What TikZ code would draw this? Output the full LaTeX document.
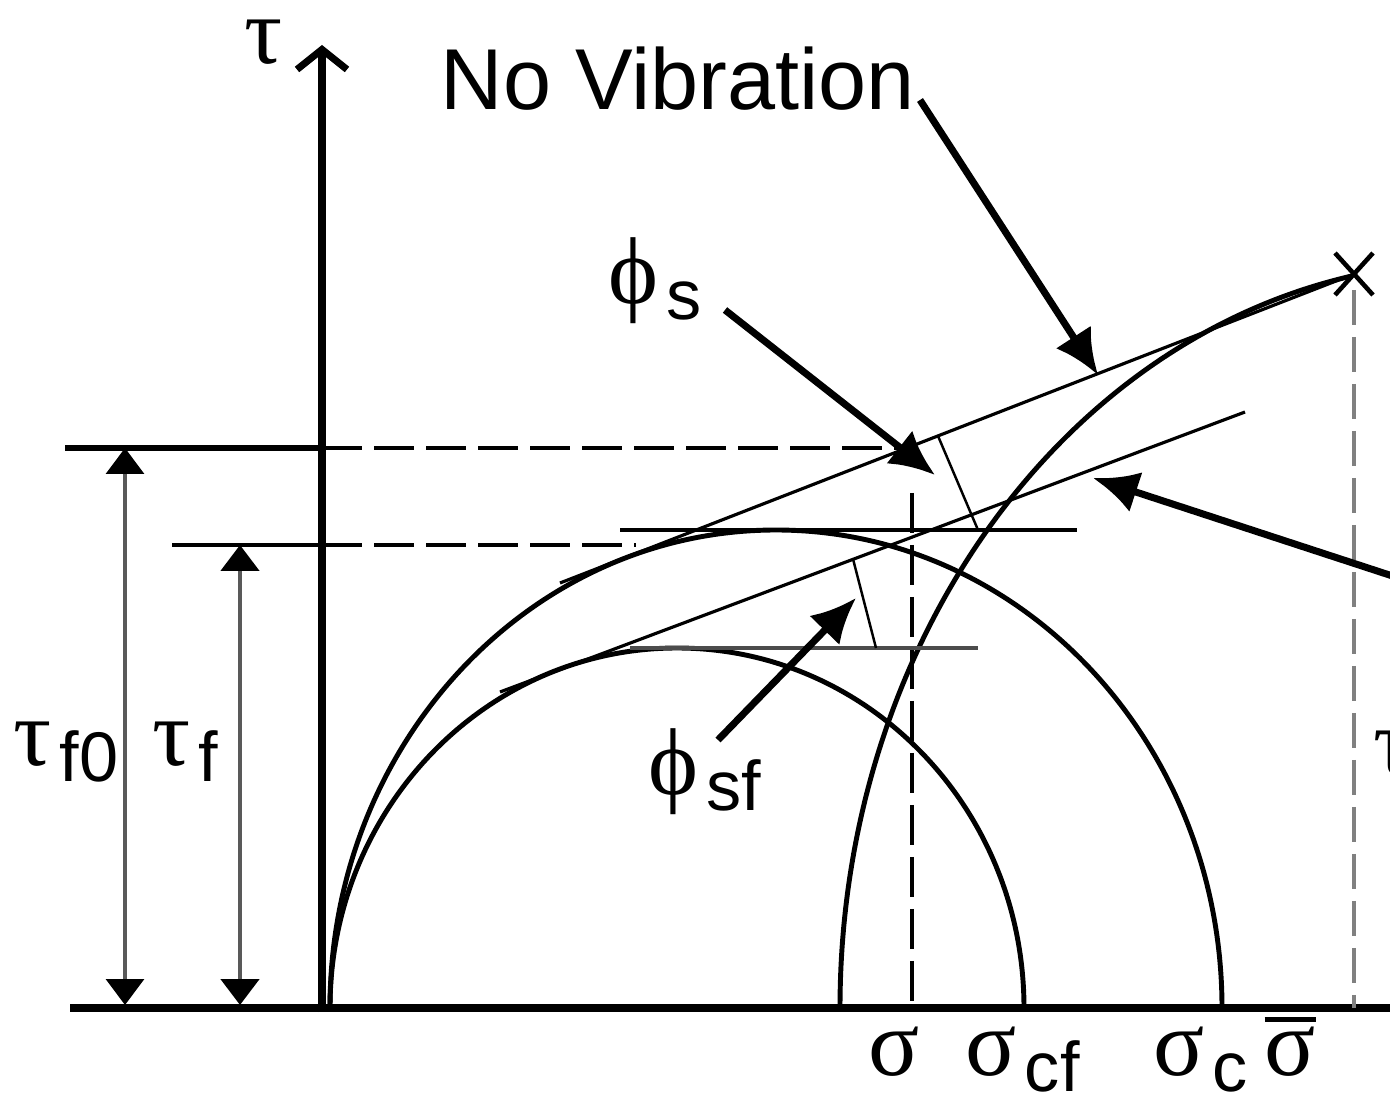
\documentclass[tikz,border=0pt]{standalone}
\usepackage{fontspec}
\setmainfont{Liberation Sans}
\newfontfamily\grk{Liberation Serif}
\usetikzlibrary{arrows.meta}

% greek symbol, barred sigma and lowered subscript
\newcommand{\gk}[1]{{\grk\fontsize{27}{30}\selectfont #1}}
\newcommand{\gkbar}[1]{\vbox{\hrule height 1.3pt\kern1.4pt\hbox{\gk{#1}}}}
\newcommand{\sbs}[1]{\kern0.8mm\raisebox{-1.6mm}{\fontsize{20}{24}\selectfont #1}}

\begin{document}
\begin{tikzpicture}[x=0.1mm,y=0.1mm,>=Latex,
  axis/.style={line width=2.2pt},
  circ/.style={line width=1.4pt},
  locus/.style={line width=0.9pt},
  guide/.style={line width=1.4pt,dash pattern=on 4mm off 1.2mm},
  pointer/.style={line width=2pt,-{Latex[length=4.5mm,width=4.2mm]}},
  dim/.style={line width=0.9pt,gray!70!black,
    {Triangle[length=2.6mm,width=3.8mm,color=black]}-{Triangle[length=2.6mm,width=3.8mm,color=black]}},
  lbl/.style={inner sep=0pt,anchor=base west}]
  \useasboundingbox (0,0) rectangle (1390,1104);

  % axes
  \coordinate (O) at (322,96);
  \draw[axis] (70,96) -- (1400,96);
  \draw[line width=2pt,-{Straight Barb[length=2mm,width=5mm]}] (322,92) -- (322,1059);

  % strength levels
  \draw[line width=1.7pt] (65,656) -- (O |- 0,656);
  \draw[guide] (O |- 0,656) -- (915,656);
  \draw[line width=0.9pt] (172,559) -- (O |- 0,559);
  \draw[guide] (O |- 0,559) -- (636,559);
  \draw[guide] (912,611) -- (912,96);
  \draw[dim] (125,99) -- (125,656);
  \draw[dim,line width=1.4pt] (240,99) -- (240,559);

  % Mohr circles
  \draw[circ] (330,96) arc[start angle=180,end angle=0,x radius=446,y radius=478];
  \draw[circ] (330,96) arc[start angle=180,end angle=0,x radius=347,y radius=360];
  \draw[circ] (840,96) arc[start angle=180,end angle=101.3,x radius=634,y radius=746];

  % yield loci and angles
  \coordinate (X) at (1354,830);
  \draw[locus] (620,574) -- (1077,574);
  \draw[locus,line width=1.2pt,gray!60!black] (630,456) -- (978,456);
  \draw[locus] (560,521) -- (X);
  \draw[locus] (500,412) -- (1245,692);
  \draw[line width=0.7pt] (938,668) -- (978,574);
  \draw[line width=0.7pt] (853,545) -- (876,456);
  \draw[line width=1.3pt] (X) +(-19,21) -- +(19,-21) (X) +(19,21) -- +(-19,-21);
  \draw[gray,line width=0.9pt,dash pattern=on 3.5mm off 1.2mm] (1354,814) -- (1354,96);

  % labels
  \node[lbl] (tau) at (244,1040) {\gk{τ}};
  \node[lbl,font=\fontsize{24.6}{28}\selectfont] (novib) at (440,994) {No Vibration};
  \node[lbl] (phis) at (608,800) {\gk{ϕ}\sbs{s}};
  \node[lbl] (phisf) at (648,310) {\gk{ϕ}\sbs{sf}};
  \node[lbl] (tauf0) at (13,339) {\gk{τ}\sbs{f0}};
  \node[lbl] (tauf) at (152,339) {\gk{τ}\sbs{f}};
  \node[lbl] (sig) at (868,29) {\gk{σ}};
  \node[lbl] (sigcf) at (965,29) {\gk{σ}\sbs{cf}};
  \node[lbl] (sigc) at (1153,29) {\gk{σ}\sbs{c}};
  \node[lbl] (sigbar) at (1264,29) {\gkbar{σ}};
  \node[lbl] (taux) at (1373,330) {\gk{τ}};

  % pointers
  \coordinate (novtail) at (920,1004);
  \coordinate (novtip) at (1098,729);
  \coordinate (phistail) at (725,794);
  \coordinate (phistip) at (935,629);
  \coordinate (phisftail) at (718,364);
  \coordinate (phisftip) at (856,506);
  \coordinate (vibtail) at (1420,519);
  \coordinate (vibtip) at (1093,626);
  \draw[pointer] (novtail) -- (novtip);
  \draw[pointer] (phistail) -- (phistip);
  \draw[pointer] (phisftail) -- (phisftip);
  \draw[pointer] (vibtail) -- (vibtip);
\end{tikzpicture}
\end{document}
